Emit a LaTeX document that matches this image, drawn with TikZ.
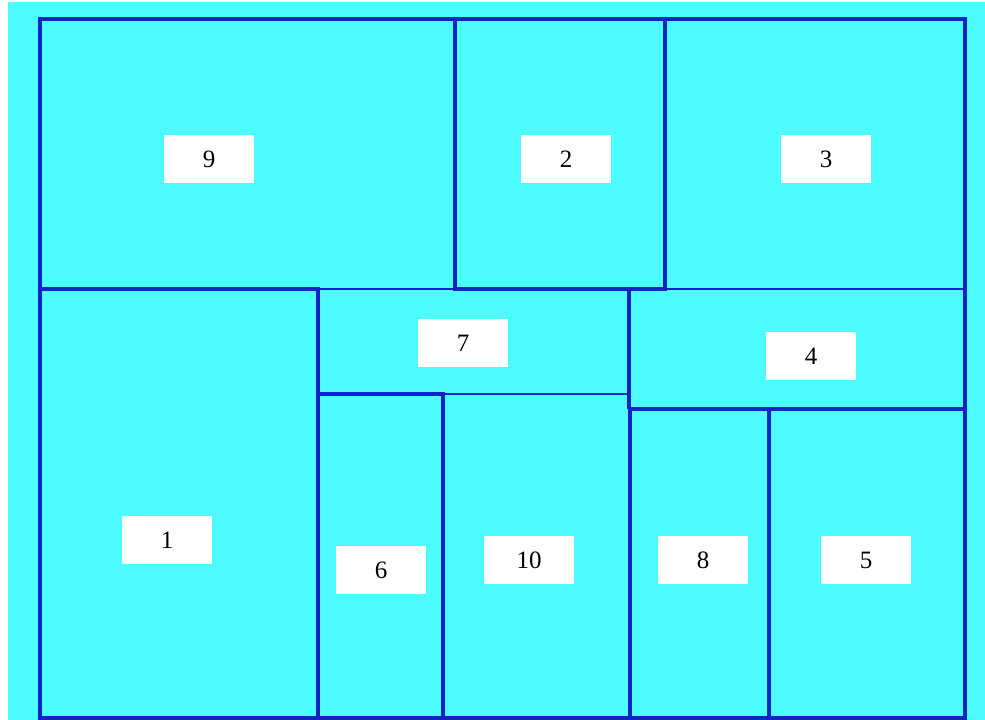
\documentclass[tikz,border=0pt]{standalone}
\usepackage{fontspec}
\setmainfont{Liberation Serif}
\usepackage{xcolor}
\definecolor{PlanCyan}{RGB}{77,252,255}
\definecolor{WallBlue}{RGB}{18,36,200}

\tikzset{
  wall/.style={draw=WallBlue, line width=1.5pt},
  bigwall/.style={draw=WallBlue, line width=3.1pt},
  tag/.style={fill=white, minimum width=90pt, minimum height=48pt,
    inner sep=0pt, font=\fontsize{25}{29}\selectfont}
}

\begin{document}
\begin{tikzpicture}[x=1pt, y=-1pt]
  \useasboundingbox (0,0) rectangle (985,720);
  \fill[PlanCyan] (8,2) rectangle (985,720);

  % rooms: x1/y1/x2/y2
  \foreach \xa/\ya/\xb/\yb in {40/19/455/289, 455/19/665/289, 665/19/965/289,
      40/289/318/718, 318/289/629/394, 629/289/965/409, 318/394/443/718,
      443/394/630/718, 630/409/769/718, 769/409/965/718}
    \draw[wall] (\xa,\ya) rectangle (\xb,\yb);

  % heavier walls
  \foreach \xa/\ya/\xb/\yb in {40/19/965/718, 455/19/665/289, 40/289/318/718,
      318/394/443/718, 630/409/769/718, 769/409/965/718}
    \draw[bigwall] (\xa,\ya) rectangle (\xb,\yb);
  \draw[bigwall] (629,289) -- (629,409);

  % labels
  \node[tag] (r9) at (209,159) {9};
  \node[tag] (r2) at (566,159) {2};
  \node[tag] (r3) at (826,159) {3};
  \node[tag] (r7) at (463,343) {7};
  \node[tag] (r4) at (811,356) {4};
  \node[tag] (r1) at (167,540) {1};
  \node[tag] (r6) at (381,570) {6};
  \node[tag] (r10) at (529,560) {10};
  \node[tag] (r8) at (703,560) {8};
  \node[tag] (r5) at (866,560) {5};
\end{tikzpicture}
\end{document}
